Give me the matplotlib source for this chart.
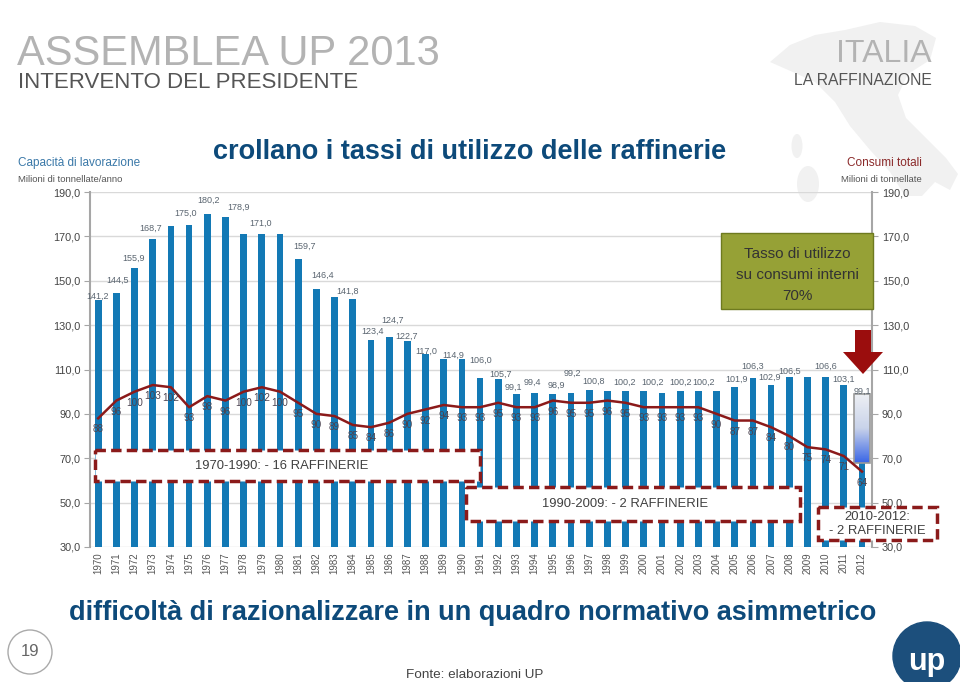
import numpy as np
import matplotlib
matplotlib.use('Agg')
import matplotlib.pyplot as plt
from matplotlib.patches import Rectangle, Circle, FancyArrow, Polygon, Ellipse
from matplotlib.colors import LinearSegmentedColormap

# ---------------- data ----------------
years = list(range(1970, 2013))
capacity = [141.2, 144.5, 155.9, 168.7, 174.8, 175.0, 180.2, 178.9, 171.0, 171.0,
            171.0, 159.7, 146.4, 142.5, 141.8, 123.4, 124.7, 122.7, 117.0, 114.9,
            114.9, 106.0, 105.7, 99.1, 99.4, 98.9, 99.2, 100.8, 100.1, 100.2,
            100.2, 99.6, 100.2, 100.2, 100.2, 101.9, 106.3, 102.9, 106.5, 106.4,
            106.6, 103.1, 99.1]
utilization = [88, 96, 100, 103, 102, 93, 98, 96, 100, 102,
               100, 95, 90, 89, 85, 84, 86, 90, 92, 94,
               93, 93, 95, 93, 93, 96, 95, 95, 96, 95,
               93, 93, 93, 93, 90, 87, 87, 84, 80, 75,
               74, 71, 64]
label_years = [1970, 1971, 1972, 1973, 1975, 1976, 1977, 1979, 1981, 1982,
               1984, 1985, 1986, 1987, 1988, 1989, 1991, 1992, 1993, 1994,
               1995, 1996, 1997, 1999, 2000, 2002, 2003, 2005, 2006, 2007,
               2008, 2010, 2011, 2012]
cap_2012_base = 68.0
yticks = [30, 50, 70, 90, 110, 130, 150, 170, 190]

# label placement (layout only): (dx px, dy px) of label centre from bar top
label_layout = {
    1970: (-1, 4), 1971: (1, 13), 1972: (-1, 9), 1973: (-2, 11), 1975: (-4, 12),
    1976: (1, 13), 1977: (13, 9), 1979: (-1, 11), 1981: (6, 13), 1982: (6, 13),
    1984: (-5, 8), 1985: (2, 8), 1986: (3, 17), 1987: (-1, 5), 1988: (1, 3),
    1989: (10, 3), 1991: (1, 18), 1992: (2, 5), 1993: (-3, 6), 1994: (-2, 11),
    1995: (4, 9), 1996: (1, 20), 1997: (4, 9), 1999: (-1, 9), 2000: (9, 9),
    2002: (0, 9), 2003: (5, 9), 2005: (2, 8), 2006: (0, 11), 2007: (-1, 8),
    2008: (0, 6), 2010: (0, 11), 2011: (0, 5), 2012: (0, 2),
}

W, H = 960, 682
plt.rcParams['font.family'] = ['Liberation Sans', 'DejaVu Sans']

fig = plt.figure(figsize=(9.6, 6.82), dpi=100)
fig.patch.set_facecolor('white')


def px(x0, y0, x1, y1):
    return [x0 / W, 1 - y1 / H, (x1 - x0) / W, (y1 - y0) / H]


BAR = '#1379b5'
RED = '#8b1a1a'
PT = 72.0 / 100.0

# ---------------- background decoration ----------------
bg = fig.add_axes([0, 0, 1, 1], zorder=0)
bg.set_xlim(0, W)
bg.set_ylim(H, 0)
bg.axis('off')
MAPC = '#f1f1f1'
bg.add_patch(Polygon([(770, 62), (790, 45), (815, 35), (845, 30), (880, 22), (915, 26),
                      (936, 38), (930, 60), (908, 74), (898, 95), (906, 118), (926, 138),
                      (946, 158), (958, 174), (950, 190), (935, 182), (922, 196), (905, 196),
                      (890, 172), (870, 150), (850, 126), (835, 102), (815, 82), (795, 73)],
                     closed=True, fc=MAPC, ec='none'))
bg.add_patch(Ellipse((808, 184), 22, 36, fc=MAPC, ec='none'))
bg.add_patch(Ellipse((797, 146), 11, 24, fc=MAPC, ec='none'))

ax = fig.add_axes(px(90, 192, 872, 547), zorder=2)
ax.patch.set_alpha(0)
x = np.arange(len(years))

ax.bar(x[:-1], capacity[:-1], width=0.37, color=BAR, zorder=2)
ax.bar(x[-1], cap_2012_base, width=0.37, color=BAR, zorder=2)
# 2012 highlighted gradient block
cmap = LinearSegmentedColormap.from_list('g', ['#eef0f4', '#c9d3ea', '#3a66e6'])
grad = np.linspace(0, 1, 100).reshape(-1, 1)
ax.imshow(grad, extent=(x[-1] - 0.43, x[-1] + 0.43, cap_2012_base, capacity[-1]),
          aspect='auto', cmap=cmap, zorder=3, origin='upper')
ax.add_patch(Rectangle((x[-1] - 0.43, cap_2012_base), 0.86, capacity[-1] - cap_2012_base,
                       fill=False, ec='#9a9a9a', lw=1.2, zorder=3))

ax.plot(x, utilization, color=RED, lw=1.8, zorder=4)

for yr in label_years:
    i = years.index(yr)
    dx, dy = label_layout.get(yr, (0, 8))
    ax.annotate(f"{capacity[i]:.1f}".replace('.', ','), (i, capacity[i]),
                xytext=(dx * PT, dy * PT), textcoords='offset points', ha='center', va='center',
                fontsize=6.5, color='#5a6570', zorder=5)
for i, u in enumerate(utilization):
    ax.annotate(f"{u}", (i, u), xytext=(0, -8), textcoords='offset points',
                ha='center', va='center', fontsize=7.2, color='#4b4350', zorder=5)

ax.set_xlim(-0.45, len(years) - 0.45)
ax.set_ylim(30, 190)
ax.set_yticks(yticks)
ax.set_yticklabels([f"{v:.1f}".replace('.', ',') for v in yticks])
ax.tick_params(axis='y', labelright=True, right=True, length=4, color='#a6a6a6',
               labelsize=7.8, labelcolor='#444444', pad=3)
ax.set_xticks(x)
ax.set_xticklabels([str(y) for y in years], rotation=90, fontsize=7, color='#555555')
ax.tick_params(axis='x', length=0, pad=4)
ax.yaxis.grid(True, color='#d9d9d9', lw=1)
ax.set_axisbelow(True)
for s in ['top', 'bottom']:
    ax.spines[s].set_visible(False)
for s in ['left', 'right']:
    ax.spines[s].set_color('#a6a6a6')
    ax.spines[s].set_linewidth(1.5)

# ---------------- overlay ----------------
ov = fig.add_axes([0, 0, 1, 1], zorder=5)
ov.set_xlim(0, W)
ov.set_ylim(H, 0)
ov.axis('off')
ov.patch.set_alpha(0)

ov.text(17, 65, 'ASSEMBLEA UP 2013', fontsize=30, color='#b3b3b3', va='baseline', ha='left')
ov.text(18, 88, 'INTERVENTO DEL PRESIDENTE', fontsize=16, color='#555555', va='baseline', ha='left')
ov.text(932, 62, 'ITALIA', fontsize=23, color='#b3b3b3', va='baseline', ha='right')
ov.text(932, 85, 'LA RAFFINAZIONE', fontsize=11.3, color='#555555', va='baseline', ha='right')

ov.text(470, 152, 'crollano i tassi di utilizzo delle raffinerie', fontsize=19.5,
        fontweight='bold', color='#0d4a7a', ha='center', va='center')
ov.text(18, 163, 'Capacità di lavorazione', fontsize=8.5, color='#3a78a8', ha='left', va='center')
ov.text(18, 179, 'Milioni di tonnellate/anno', fontsize=6.8, color='#555555', ha='left', va='center')
ov.text(922, 163, 'Consumi totali', fontsize=8.5, color='#8b2a2a', ha='right', va='center')
ov.text(922, 179, 'Milioni di tonnellate', fontsize=6.8, color='#555555', ha='right', va='center')

# green box
ov.add_patch(Rectangle((721, 233), 152, 76, fc='#96a136', ec='#6e7a1f', lw=1))
ov.text(797, 254, 'Tasso di utilizzo', fontsize=11, color='#333333', ha='center', va='center')
ov.text(797, 275, 'su consumi interni', fontsize=11, color='#333333', ha='center', va='center')
ov.text(797, 296, '70%', fontsize=11, color='#333333', ha='center', va='center')

# arrow
ov.add_patch(FancyArrow(863, 330, 0, 44, width=16, head_width=40, head_length=22,
                        length_includes_head=True, color='#9b0d0d', lw=0))

# dashed boxes
DASH = dict(fc='white', ec='#8b1a1a', lw=2.5, ls=(0, (3, 1.5)))
ov.add_patch(Rectangle((95, 450), 385, 31, **DASH))
ov.text(282, 466, '1970-1990: - 16 RAFFINERIE', fontsize=9.4, color='#404040', ha='center', va='center')
ov.add_patch(Rectangle((466, 487), 334, 34, **DASH))
ov.text(625, 504, '1990-2009: - 2 RAFFINERIE', fontsize=9.4, color='#404040', ha='center', va='center')
ov.add_patch(Rectangle((818, 507), 119, 33, **DASH))
ov.text(877, 517, '2010-2012:', fontsize=9.4, color='#404040', ha='center', va='center')
ov.text(877, 531, '- 2 RAFFINERIE', fontsize=9.4, color='#404040', ha='center', va='center')

ov.text(473, 613, 'difficoltà di razionalizzare in un quadro normativo asimmetrico', fontsize=19.5,
        fontweight='bold', color='#0d4a7a', ha='center', va='center')
ov.text(475, 675, 'Fonte: elaborazioni UP', fontsize=9.7, color='#444444', ha='center', va='center')

ov.add_patch(Circle((30, 652), 22, fill=False, ec='#aaaaaa', lw=1))
ov.text(30, 652, '19', fontsize=12, color='#666666', ha='center', va='center')
ov.add_patch(Circle((927, 656), 34, color='#1c4f7c'))
ov.text(927, 662, 'up', fontsize=22, fontweight='bold', color='white', ha='center', va='center')

fig.savefig('out.png', dpi=100)
